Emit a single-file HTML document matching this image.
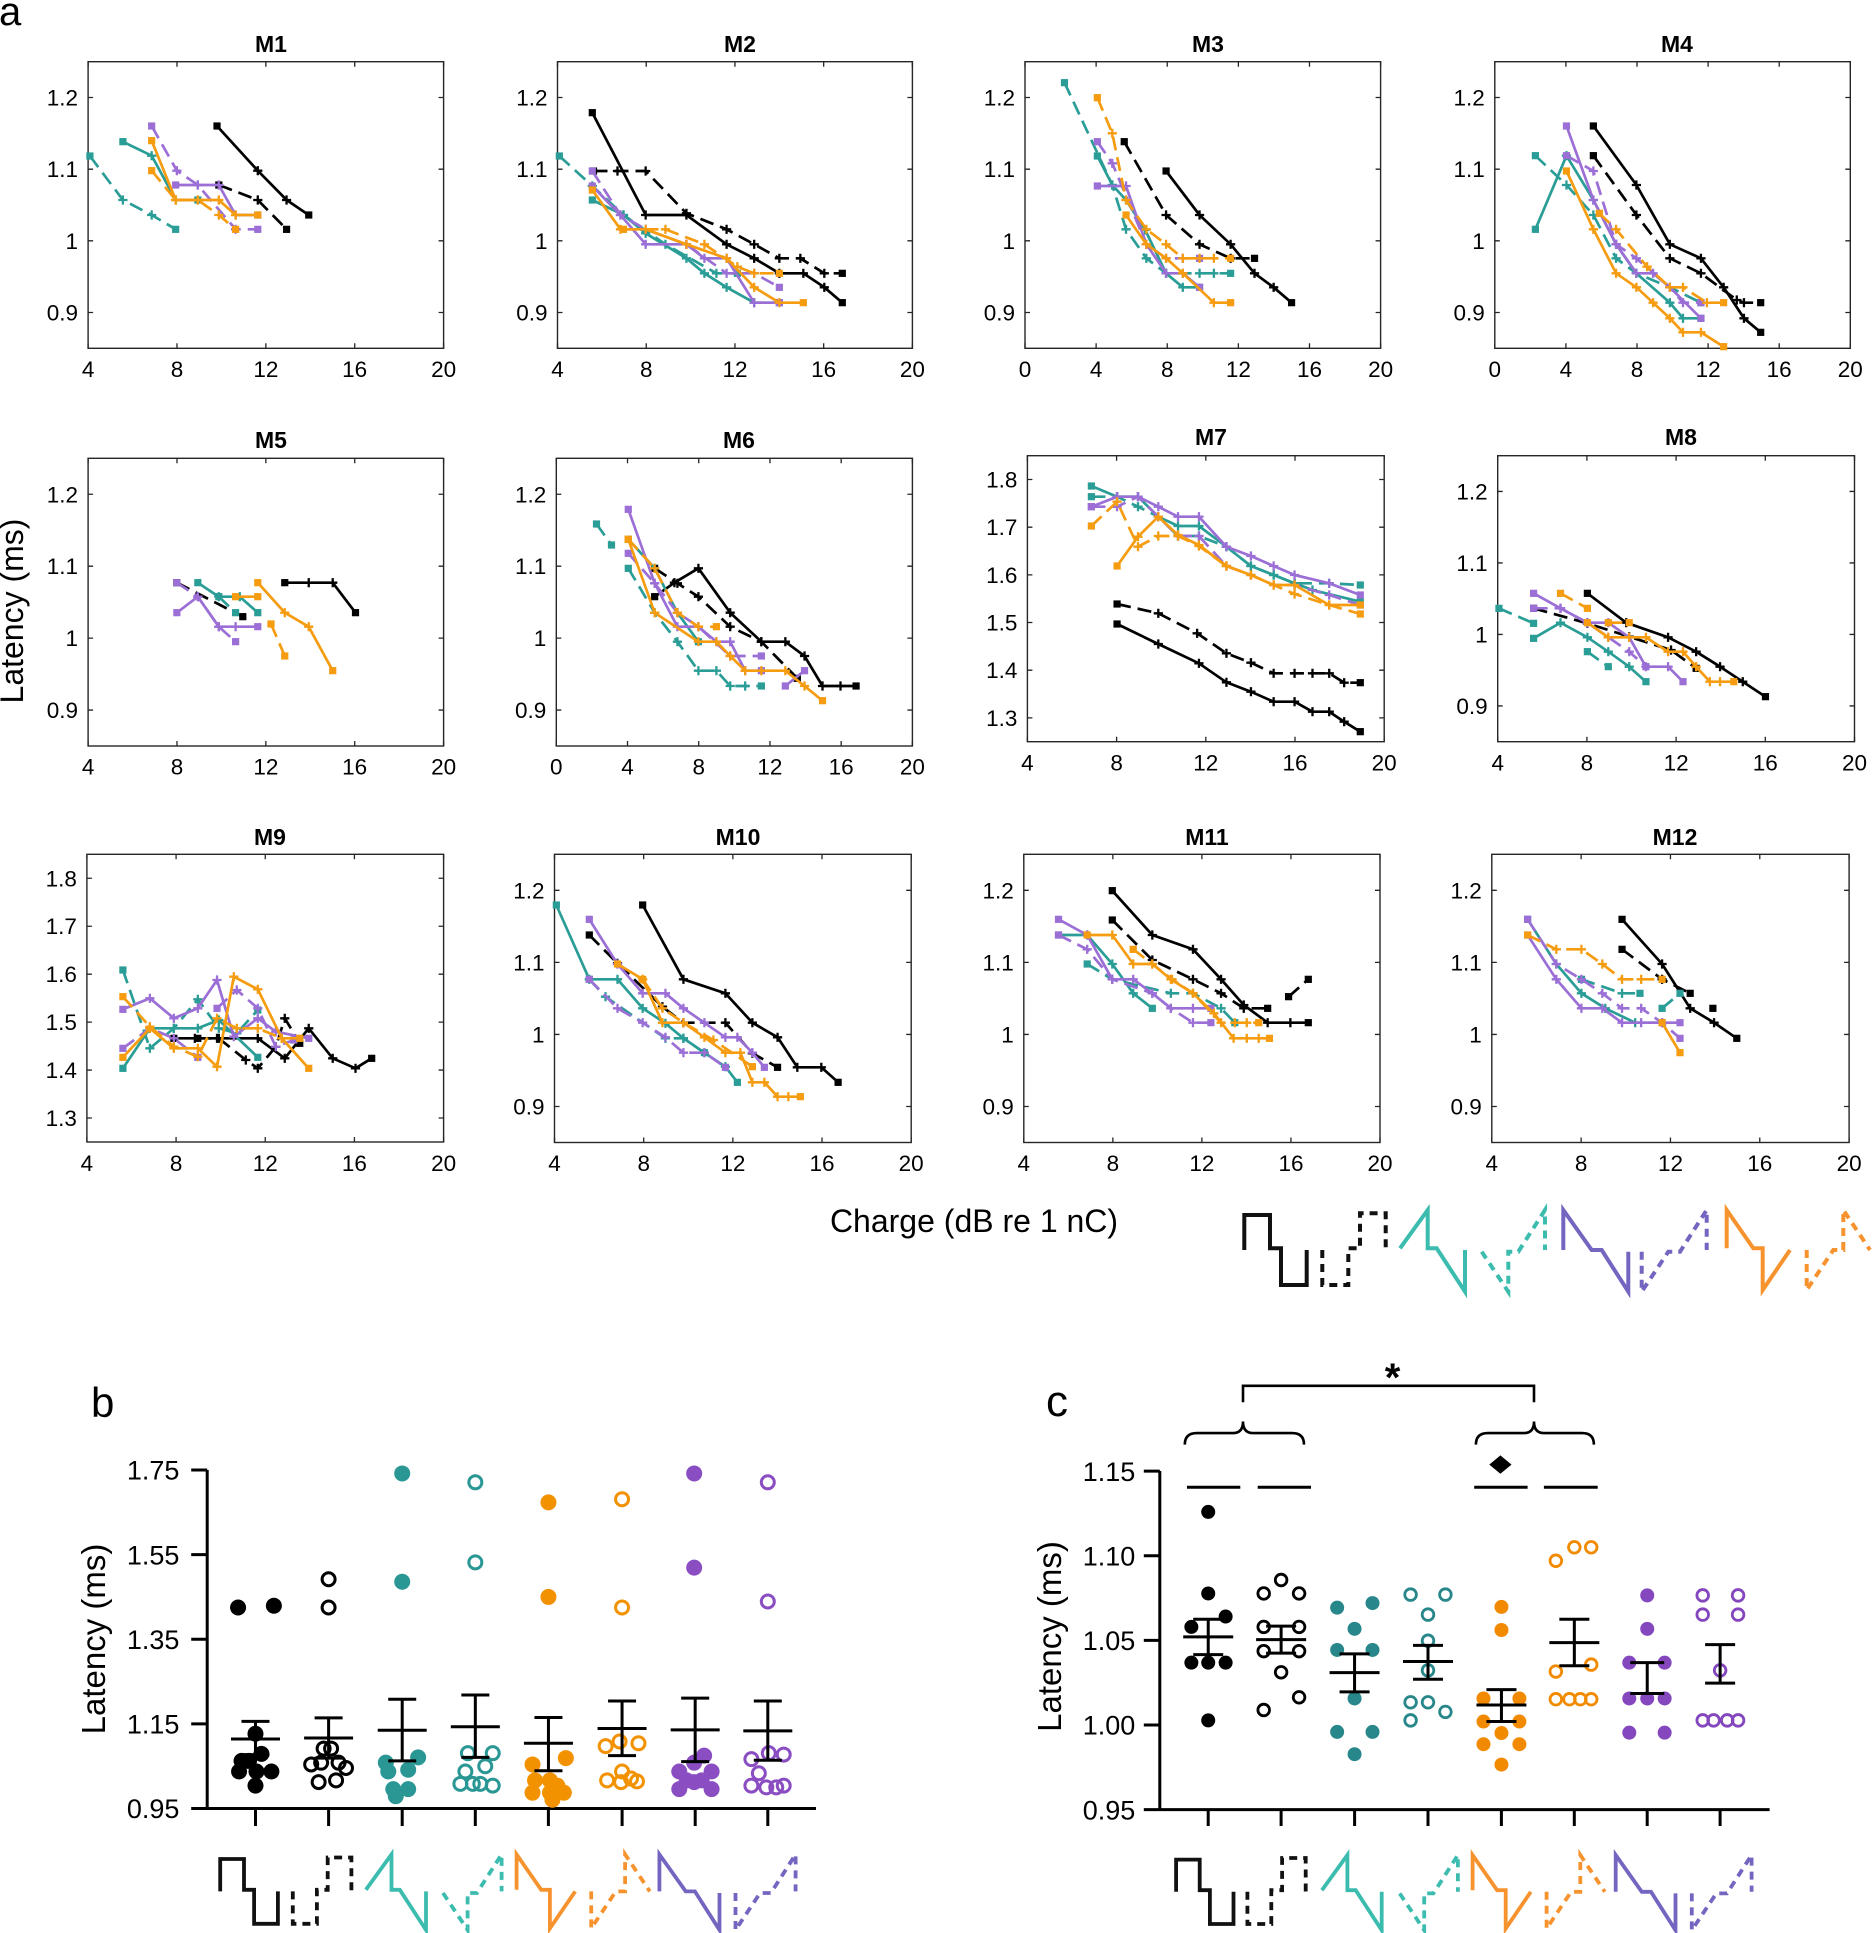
<!DOCTYPE html>
<html>
<head>
<meta charset="utf-8">
<style>
  html,body{margin:0;padding:0;background:#fff;}
  svg{display:block;}
  text{font-family:"Liberation Sans",Arial,sans-serif;fill:#000;}
</style>
</head>
<body>
<svg id="svg" xmlns="http://www.w3.org/2000/svg" width="1873" height="1933" viewBox="0 0 1873 1933">
<rect x="0" y="0" width="1873" height="1933" fill="#fff"/>
<g id="g"></g>

<!-- panel letters -->
<text x="-1" y="25" font-size="40">a</text>
<text x="91" y="1417" font-size="42">b</text>
<text x="1046" y="1416" font-size="44">c</text>

<!-- titles -->
<g font-size="23" font-weight="bold" text-anchor="middle">
<text x="271" y="52">M1</text>
<text x="740" y="52">M2</text>
<text x="1208" y="52">M3</text>
<text x="1677" y="52">M4</text>
<text x="271" y="448">M5</text>
<text x="739" y="448">M6</text>
<text x="1211" y="445">M7</text>
<text x="1681" y="445">M8</text>
<text x="270" y="845">M9</text>
<text x="738" y="845">M10</text>
<text x="1207" y="845">M11</text>
<text x="1675" y="845">M12</text>
</g>

<!-- y tick labels panel a -->
<g font-size="22.5" text-anchor="end">
<text x="78" y="105.5">1.2</text><text x="78" y="177.2">1.1</text><text x="78" y="248.8">1</text><text x="78" y="320.5">0.9</text>
<text x="547.5" y="105.5">1.2</text><text x="547.5" y="177.2">1.1</text><text x="547.5" y="248.8">1</text><text x="547.5" y="320.5">0.9</text>
<text x="1015" y="105.5">1.2</text><text x="1015" y="177.2">1.1</text><text x="1015" y="248.8">1</text><text x="1015" y="320.5">0.9</text>
<text x="1484.8" y="105.5">1.2</text><text x="1484.8" y="177.2">1.1</text><text x="1484.8" y="248.8">1</text><text x="1484.8" y="320.5">0.9</text>

<text x="78" y="502.3">1.2</text><text x="78" y="574.2">1.1</text><text x="78" y="646.1">1</text><text x="78" y="718">0.9</text>
<text x="546.3" y="502.3">1.2</text><text x="546.3" y="574.2">1.1</text><text x="546.3" y="646.1">1</text><text x="546.3" y="718">0.9</text>
<text x="1017.4" y="487.5">1.8</text><text x="1017.4" y="535.2">1.7</text><text x="1017.4" y="582.8">1.6</text><text x="1017.4" y="630.5">1.5</text><text x="1017.4" y="678.2">1.4</text><text x="1017.4" y="725.9">1.3</text>
<text x="1487.7" y="499.5">1.2</text><text x="1487.7" y="570.9">1.1</text><text x="1487.7" y="642.4">1</text><text x="1487.7" y="713.9">0.9</text>

<text x="76.9" y="886.3">1.8</text><text x="76.9" y="934.2">1.7</text><text x="76.9" y="982.2">1.6</text><text x="76.9" y="1030.1">1.5</text><text x="76.9" y="1078.1">1.4</text><text x="76.9" y="1126">1.3</text>
<text x="544.5" y="898.3">1.2</text><text x="544.5" y="970.4">1.1</text><text x="544.5" y="1042.4">1</text><text x="544.5" y="1114.5">0.9</text>
<text x="1013.8" y="898.3">1.2</text><text x="1013.8" y="970.4">1.1</text><text x="1013.8" y="1042.4">1</text><text x="1013.8" y="1114.5">0.9</text>
<text x="1481.8" y="898.3">1.2</text><text x="1481.8" y="970.4">1.1</text><text x="1481.8" y="1042.4">1</text><text x="1481.8" y="1114.5">0.9</text>
</g>

<!-- x tick labels panel a -->
<g font-size="22.5" text-anchor="middle">
<text x="88.1" y="376.8">4</text><text x="177" y="376.8">8</text><text x="265.9" y="376.8">12</text><text x="354.7" y="376.8">16</text><text x="443.6" y="376.8">20</text>
<text x="557.5" y="376.8">4</text><text x="646.2" y="376.8">8</text><text x="735" y="376.8">12</text><text x="823.7" y="376.8">16</text><text x="912.4" y="376.8">20</text>
<text x="1025" y="376.8">0</text><text x="1096.1" y="376.8">4</text><text x="1167.2" y="376.8">8</text><text x="1238.4" y="376.8">12</text><text x="1309.5" y="376.8">16</text><text x="1380.6" y="376.8">20</text>
<text x="1494.8" y="376.8">0</text><text x="1565.9" y="376.8">4</text><text x="1637" y="376.8">8</text><text x="1708.1" y="376.8">12</text><text x="1779.2" y="376.8">16</text><text x="1850.3" y="376.8">20</text>

<text x="88.1" y="774.5">4</text><text x="177" y="774.5">8</text><text x="265.9" y="774.5">12</text><text x="354.7" y="774.5">16</text><text x="443.6" y="774.5">20</text>
<text x="556.3" y="774.5">0</text><text x="627.5" y="774.5">4</text><text x="698.7" y="774.5">8</text><text x="769.9" y="774.5">12</text><text x="841.2" y="774.5">16</text><text x="912.4" y="774.5">20</text>
<text x="1027.4" y="770.5">4</text><text x="1116.6" y="770.5">8</text><text x="1205.8" y="770.5">12</text><text x="1295" y="770.5">16</text><text x="1384.2" y="770.5">20</text>
<text x="1497.7" y="770.5">4</text><text x="1586.9" y="770.5">8</text><text x="1676.1" y="770.5">12</text><text x="1765.3" y="770.5">16</text><text x="1854.5" y="770.5">20</text>

<text x="86.9" y="1171">4</text><text x="176.1" y="1171">8</text><text x="265.3" y="1171">12</text><text x="354.4" y="1171">16</text><text x="443.6" y="1171">20</text>
<text x="554.5" y="1171">4</text><text x="643.7" y="1171">8</text><text x="732.9" y="1171">12</text><text x="822" y="1171">16</text><text x="911.2" y="1171">20</text>
<text x="1023.8" y="1171">4</text><text x="1112.9" y="1171">8</text><text x="1201.9" y="1171">12</text><text x="1291" y="1171">16</text><text x="1380" y="1171">20</text>
<text x="1491.8" y="1171">4</text><text x="1581.1" y="1171">8</text><text x="1670.5" y="1171">12</text><text x="1759.8" y="1171">16</text><text x="1849.1" y="1171">20</text>
</g>

<!-- axis labels -->
<text transform="translate(23,611) rotate(-90)" font-size="32" text-anchor="middle">Latency (ms)</text>
<text x="974" y="1232" font-size="32" text-anchor="middle">Charge (dB re 1 nC)</text>
<text transform="translate(105,1639) rotate(-90)" font-size="33" text-anchor="middle">Latency (ms)</text>
<text transform="translate(1061,1636.5) rotate(-90)" font-size="33" text-anchor="middle">Latency (ms)</text>

<!-- panel b tick labels -->
<g font-size="27" text-anchor="end">
<text x="179.4" y="1479.7">1.75</text>
<text x="179.4" y="1564.3">1.55</text>
<text x="179.4" y="1649">1.35</text>
<text x="179.4" y="1733.6">1.15</text>
<text x="179.4" y="1818.2">0.95</text>
</g>
<!-- panel c tick labels -->
<g font-size="27" text-anchor="end">
<text x="1135.3" y="1480.8">1.15</text>
<text x="1135.3" y="1565.4">1.10</text>
<text x="1135.3" y="1650.1">1.05</text>
<text x="1135.3" y="1734.7">1.00</text>
<text x="1135.3" y="1819.3">0.95</text>
</g>

<!-- panel c significance -->
<g fill="none" stroke="#000" stroke-width="2.6">
<path d="M1243,1402.3 V1385.8 H1534 V1402.3"/>
<path d="M1184.8,1444.6 Q1184.8,1433.1 1197,1433.1 L1233,1433.1 Q1243,1433.1 1243,1421.5 Q1243,1433.1 1253,1433.1 L1292,1433.1 Q1304,1433.1 1304,1444.6"/>
<path d="M1475.9,1444.6 Q1475.9,1433.1 1488,1433.1 L1524,1433.1 Q1534,1433.1 1534,1421.5 Q1534,1433.1 1544,1433.1 L1582,1433.1 Q1593.9,1433.1 1593.9,1444.6"/>
</g>
<g stroke="#000" stroke-width="3">
<line x1="1187" y1="1487.3" x2="1240.3" y2="1487.3"/>
<line x1="1257.7" y1="1487.3" x2="1311" y2="1487.3"/>
<line x1="1474.2" y1="1487.3" x2="1527.6" y2="1487.3"/>
<line x1="1543.9" y1="1487.3" x2="1597.7" y2="1487.3"/>
</g>
<polygon points="1500.4,1455.4 1511.5,1464.6 1500.4,1473.8 1489.3,1464.6" fill="#000"/>
<text x="1392.6" y="1391" font-size="40" font-weight="bold" text-anchor="middle">*</text>
</svg>

<script>
(function(){
var NS='http://www.w3.org/2000/svg';
var root=document.getElementById('g');
function el(tag,a){var e=document.createElementNS(NS,tag);for(var k in a)e.setAttribute(k,a[k]);root.appendChild(e);return e;}
var FR={A:[0,0,0.5995,1/3],B:[936,0,0.5976,1/3],C:[0,420,0.5995,1/3],D:[936,420,0.5976,1/3],E:[0,820,0.5995,1/3],F:[936,820,0.5976,1/3],b:[60,1380,0.4974,0.3527],c:[1020,1330,0.544,0.3846]};
function tx(f,x){return f[0]+x*f[2];}
function ty(f,y){return f[1]+y*f[3];}

/* axes boxes panel a */
function box(x0,y0,x1,y1,xl,yl,yt){
  el('rect',{x:x0,y:y0,width:x1-x0,height:y1-y0,fill:'none',stroke:'#262626','stroke-width':1.4});
  var d='';
  for(var v=xl[0];v<=xl[1]+0.001;v+=4){
    var px=x0+(v-xl[0])/(xl[1]-xl[0])*(x1-x0);
    d+='M'+px+','+y1+'v-5M'+px+','+y0+'v5';
  }
  for(var i=0;i<yt.length;i++){
    var py=y0+(yl[1]-yt[i])/(yl[1]-yl[0])*(y1-y0);
    d+='M'+x0+','+py+'h5M'+x1+','+py+'h-5';
  }
  el('path',{d:d,stroke:'#262626','stroke-width':1.3,fill:'none'});
}
var Y1=[0.9,1,1.1,1.2], Y2=[1.3,1.4,1.5,1.6,1.7,1.8];
box(88.1,61.7,443.6,348.3,[4,20],[0.85,1.25],Y1);
box(557.5,61.7,912.4,348.3,[4,20],[0.85,1.25],Y1);
box(1025,61.7,1380.6,348.3,[0,20],[0.85,1.25],Y1);
box(1494.8,61.7,1850.3,348.3,[0,20],[0.85,1.25],Y1);
box(88.1,458.3,443.6,746,[4,20],[0.85,1.25],Y1);
box(556.3,458.3,912.4,746,[0,20],[0.85,1.25],Y1);
box(1027.4,455.7,1384.2,741.7,[4,20],[1.25,1.85],Y2);
box(1497.7,455.7,1854.5,741.7,[4,20],[0.85,1.25],Y1);
box(86.9,854.3,443.6,1142,[4,20],[1.25,1.85],Y2);
box(554.5,854.3,911.2,1142.5,[4,20],[0.85,1.25],Y1);
box(1023.8,854.3,1380,1142.5,[4,20],[0.85,1.25],Y1);
box(1491.8,854.3,1849.1,1142.5,[4,20],[0.85,1.25],Y1);

var K='#000',T='#2a9d96',P='#9b6fd6',O='#f59c10';
function ser(f,a,col,dash){
  var pts=[];
  for(var i=0;i<a.length;i+=2)pts.push([tx(f,a[i]),ty(f,a[i+1])]);
  if(pts.length>1){
    var at={points:pts.map(function(p){return p[0].toFixed(1)+','+p[1].toFixed(1);}).join(' '),fill:'none',stroke:col,'stroke-width':2.7,'stroke-linejoin':'round'};
    if(dash)at['stroke-dasharray']='14 7';
    el('polyline',at);
  }
  var d='';
  for(var j=0;j<pts.length;j++){
    var x=pts[j][0],y=pts[j][1];
    if(j==0||j==pts.length-1){el('rect',{x:x-3.6,y:y-3.6,width:7.2,height:7.2,fill:col});}
    else{d+='M'+(x-4.6)+','+y+'h9.2M'+x+','+(y-4.6)+'v9.2';}
  }
  if(d)el('path',{d:d,stroke:col,'stroke-width':2.3,fill:'none'});
}
function plot(f,L){for(var i=0;i<L.length;i++)ser(FR[f],L[i][0],L[i][1],L[i][2]);}

/* M1 */
plot('A',[
[[362,378,430,512,478,600,515,645],K,0],
[[365,555,430,600,478,688],K,1],
[[205,425,253,467,293,600,330,600],T,0],
[[150,468,205,600,253,645,293,688],T,1],
[[293,555,330,555,365,555,393,645,430,645],P,0],
[[253,378,295,512,330,555,393,688,430,688],P,1],
[[253,422,293,600,330,600,365,600,393,645,430,645],O,0],
[[253,512,293,600,330,600,365,645,393,688],O,1]
]);
/* M2 */
plot('A',[
[[988,338,1077,645,1145,645,1212,733,1258,775,1300,820,1340,820,1375,862,1405,908],K,0],
[[990,513,1030,513,1077,513,1145,640,1212,688,1258,733,1300,775,1335,775,1375,820,1405,820],K,1],
[[988,600,1040,645,1077,700,1145,775,1175,820,1212,862,1258,908,1300,908],T,0],
[[933,468,988,558,1040,645,1110,733,1195,820,1230,820],T,1],
[[988,558,1035,645,1077,733,1145,733,1175,775,1212,775,1258,908,1300,908],P,0],
[[988,513,1035,645,1077,688,1145,733,1212,820,1258,820,1300,862],P,1],
[[988,570,1035,688,1077,688,1145,733,1212,775,1258,862,1300,908,1340,908],O,0],
[[1040,688,1110,688,1175,733,1230,800,1258,820,1300,820],O,1]
]);
/* M3 */
plot('B',[
[[385,513,441,645,493,733,533,820,565,862,595,908],K,0],
[[315,425,385,645,441,733,493,775,533,775],K,1],
[[270,468,295,555,318,600,350,690,385,820,413,862,441,862],T,0],
[[215,248,295,555,318,688,352,775,385,820,441,820,465,820,493,820],T,1],
[[270,558,318,558,352,733,385,820,413,820,441,862],P,0],
[[270,425,295,490,352,733,385,775,413,775,441,775],P,1],
[[318,645,352,733,385,775,413,820,465,908,493,908],O,0],
[[270,293,295,400,318,600,352,688,385,733,413,775,441,775,465,775,493,775],O,1]
]);
/* M4 */
plot('B',[
[[1100,378,1172,555,1228,733,1280,775,1318,862,1352,955,1380,997],K,0],
[[1100,467,1172,645,1228,775,1280,820,1340,900,1352,908,1380,908],K,1],
[[1003,688,1055,467,1100,600,1138,733,1172,820,1228,908,1250,955,1280,955],T,0],
[[1003,467,1055,555,1100,645,1138,775,1172,820,1228,862,1280,908],T,1],
[[1055,378,1100,600,1138,733,1172,820,1200,820,1228,862,1280,955],P,0],
[[1055,467,1100,513,1138,733,1172,775,1228,862,1250,908,1280,908],P,1],
[[1055,513,1100,688,1138,820,1172,862,1200,908,1228,955,1250,997,1280,997,1318,1040],O,0],
[[1110,640,1138,688,1190,800,1228,862,1250,862,1290,908,1318,908],O,1]
]);
/* M5 */
plot('C',[
[[475,488,515,488,555,488,593,578],K,0],
[[295,488,405,590],K,1],
[[330,488,365,530,400,530,430,578],T,0],
[[365,530,393,578],T,1],
[[295,578,330,530,365,620,393,620,430,620],P,0],
[[295,488,330,530,365,620,393,665],P,1],
[[430,488,475,578,515,620,555,752],O,0],
[[393,530,430,530],O,0],
[[452,612,475,708],O,1]
]);
/* M6 */
plot('C',[
[[1092,530,1125,488,1165,445,1218,578,1270,665,1310,665,1342,708,1372,798,1402,798,1428,798],K,0],
[[1092,445,1130,490,1165,530,1218,620,1270,665,1330,775],K,1],
[[1048,358,1092,445,1130,578,1165,665],T,0],
[[995,312,1020,375],T,1],
[[1048,445,1092,578,1130,665,1165,752,1195,752,1218,798,1243,798,1270,798],T,1],
[[1048,268,1092,490,1130,620,1165,620,1195,665,1218,665,1243,752,1270,752],P,0],
[[1048,400,1092,490,1130,578,1165,620,1218,708,1270,708],P,1],
[[1310,798,1342,752],P,0],
[[1048,358,1092,578,1165,665,1195,665,1218,708,1243,752,1270,752,1310,752,1342,798,1372,842],O,0],
[[1048,358,1092,445,1130,578,1165,620,1195,620],O,1]
]);
/* M7 */
plot('D',[
[[303,612,372,672,440,730,486,787,527,815,565,845,600,845,630,875,658,875,683,905,710,935],K,0],
[[303,552,372,580,437,640,486,700,527,728,565,760,600,760,630,760,658,760,683,788,710,788],K,1],
[[260,198,303,230,338,230,372,290,405,318,440,318,486,380,527,438,565,465,600,490,630,510,710,545],T,0],
[[260,230,303,230,338,260,372,290,405,348,440,348,486,380,527,438,565,465,600,490,658,490,710,495],T,1],
[[260,260,303,230,338,230,372,260,405,290,440,290,486,380,527,408,565,438,600,465,658,490,710,525],P,0],
[[260,260,303,260,338,230,372,290,405,348,440,348,486,438,527,465,565,495,600,495,658,525,710,555],P,1],
[[303,438,338,350,372,290,405,345,440,375,486,438,527,465,565,495,600,495,658,555,710,555],O,0],
[[260,318,303,245,338,380,372,348,405,348,440,378,486,438,527,465,565,495,600,522,658,555,710,582],O,1]
]);
/* M8 */
plot('D',[
[[1090,520,1155,608,1225,652,1272,695,1312,740,1350,785,1388,830],K,0],
[[1000,565,1090,610,1160,650,1230,690,1272,745],K,1],
[[1000,655,1045,608,1090,652,1125,695,1160,740,1188,785],T,0],
[[942,565,1000,610],T,1],
[[1090,695,1125,740],T,1],
[[1000,520,1045,565,1090,608,1125,608,1160,652,1188,740,1225,740,1250,785],P,0],
[[1000,565,1045,565,1090,608,1125,652,1160,695,1188,740],P,1],
[[1090,608,1125,652,1160,652,1188,652,1225,695,1250,695,1272,740,1295,785,1312,785,1335,785],O,0],
[[1045,520,1090,565],O,1],
[[1125,608,1160,608],O,1]
]);
/* M9 */
plot('E',[
[[290,655,325,655,362,655,430,655,475,715,515,625,555,715,593,745,620,715],K,0],
[[330,655,365,655,410,720,430,745,460,680,475,595,500,670],K,1],
[[205,745,250,625,290,625,330,625,365,600,430,712],T,0],
[[205,450,250,685,290,625,330,538,365,625,395,640,430,570],T,1],
[[205,568,250,535,290,595,330,565,362,480,390,650,430,595,460,635,515,655],P,0],
[[205,685,250,625,290,655,330,712],P,1],
[[362,565,395,510,430,565,460,680,490,660],P,1],
[[205,712,250,625,290,685,330,685,362,740,390,470,430,508,470,655,515,745],O,0],
[[205,530,250,620,290,680,330,710,362,595,395,625,430,625,470,655,500,655],O,1]
]);
/* M10 */
plot('E',[
[[1072,255,1140,478,1210,520,1255,608,1297,652,1330,742,1370,742,1398,787],K,0],
[[983,345,1030,430,1105,560,1140,608,1210,608,1255,700,1297,742],K,1],
[[928,255,983,478,1030,478,1072,565,1110,610,1140,655,1175,698,1210,740,1230,787],T,0],
[[983,478,1010,530,1110,655,1140,655,1175,698],T,1],
[[983,298,1030,432,1072,520,1110,520,1140,565,1175,608,1210,652,1230,652,1255,698,1275,742],P,0],
[[983,478,1030,565,1072,608,1110,652,1140,698,1175,698,1210,742],P,1],
[[1030,432,1072,478,1105,608,1140,608,1175,652,1210,698,1235,698,1255,787,1275,787,1297,830,1315,830,1335,830],O,0],
[[1072,478,1105,565,1140,608,1190,660,1255,740],O,1]
]);
/* M11 */
plot('F',[
[[295,212,362,345,430,388,477,478,515,555,555,608,593,608,623,608],K,0],
[[295,300,362,420,430,478,477,520,515,565,555,565],K,1],
[[590,530,623,478],K,1],
[[205,345,253,345,295,432,330,520,362,565],T,0],
[[253,432,295,478,393,520,430,520,477,565,500,608],T,1],
[[205,298,253,345,295,478,330,478,362,520,393,565,430,565,460,565],P,0],
[[205,345,253,388,295,478,362,520,393,565,430,608,460,608],P,1],
[[253,345,295,345,330,432,362,432,393,478,430,520,465,580,498,655,520,655,540,655,558,655],O,0],
[[330,388,362,432,395,478,430,520,477,608,500,608,520,608,540,608],O,1]
]);
/* M12 */
plot('F',[
[[1148,298,1215,432,1262,565,1302,608,1340,655],K,0],
[[1148,388,1215,478,1262,520],K,1],
[[1300,565],K,1],
[[990,298,1038,432,1080,520,1120,565,1170,608,1215,608],T,0],
[[1080,478,1148,520,1178,520],T,1],
[[1215,565,1245,520],T,1],
[[990,345,1038,478,1080,565,1115,565,1148,608,1180,608,1215,608,1245,608],P,0],
[[990,298,1038,432,1080,478,1115,520,1148,565,1180,565,1215,608,1245,655],P,1],
[[1215,608,1245,698],O,0],
[[990,345,1038,388,1080,388,1115,432,1148,478,1180,478,1215,478],O,1]
]);

/* legend glyphs */
var TPL={
 KS:[[0,40],[0,5],[25.7,5],[25.7,38.3],[36.7,38.3],[36.7,75],[62.4,75],[62.4,40]],
 KD:[[0,40],[0,75],[26,75],[26,38.3],[37.7,38.3],[37.7,3.3],[63.4,3.3],[63.4,40]],
 TS:[[0,38.3],[27.7,0],[27.7,38.3],[36.7,38.3],[65,81.7],[65,40]],
 TD:[[0,41.7],[26.6,81.7],[26.6,41.7],[36.6,41.7],[63.3,0],[63.3,40]],
 PS:[[0,40],[0,0],[28.4,40],[38.4,40],[65,81.7],[65,41.7]],
 PD:[[0,41.7],[0,81.7],[26.6,41.7],[38.3,41.7],[65,0],[65,40]],
 OS:[[0,38.3],[0,0],[26.6,38.3],[36,38.3],[36,80],[63.3,40]],
 OD:[[0,40],[0,80],[26.6,40],[36.6,40],[36.6,0],[63.3,40]]
};
var GC={K:'#111',T:'#3bbcae',P:'#7466c0',O:'#f7932f'};
function glyph(n,ox,oy,s,sw){
  var pts=TPL[n].map(function(p){return (ox+p[0]*s).toFixed(1)+','+(oy+p[1]*s).toFixed(1);}).join(' ');
  var a={points:pts,fill:'none',stroke:GC[n[0]],'stroke-width':sw,'stroke-linejoin':'miter'};
  if(n[1]=='D')a['stroke-dasharray']='8 6';
  el('polyline',a);
}
var la=[['KS',1244.3],['KD',1322.3],['TS',1400],['TD',1481.7],['PS',1563.3],['PD',1641.7],['OS',1726.7],['OD',1806.7]];
la.forEach(function(g){glyph(g[0],g[1],1210,1,4);});
var lb=[['KS',220.2],['KD',292.8],['TS',365.9],['TD',443],['OS',516.6],['OD',591.2],['PS',659.4],['PD',735.5]];
lb.forEach(function(g){glyph(g[0],g[1],1854.4,0.925,3.8);});
var lc=[['KS',1176.1],['KD',1247.4],['TS',1321.9],['TD',1399.7],['OS',1472.6],['OD',1546.6],['PS',1615.7],['PD',1691.8]];
lc.forEach(function(g){glyph(g[0],g[1],1855,0.92,3.8);});

/* panel b & c axes */
function axes(xa,ytop,ybot,xend,yts,xts){
  var d='M'+xa+','+ytop+'V'+ybot+'H'+xend;
  yts.forEach(function(y){d+='M'+(xa-16)+','+y+'H'+xa;});
  xts.forEach(function(x){d+='M'+x+','+ybot+'V1826';});
  el('path',{d:d,stroke:'#000','stroke-width':3,fill:'none'});
}
axes(207.2,1470,1808.5,816,[1470,1554.6,1639.3,1723.9,1808.5],[255.5,328.6,402.2,475.3,548.4,622.1,695.2,767.8]);
axes(1159.8,1471,1809.6,1769.6,[1471.1,1555.7,1640.4,1725,1809.6],[1208.2,1281.1,1354.6,1428,1501.4,1574.3,1647.2,1720.1]);

function dots(f,a,col,open,r,sw){
  for(var i=0;i<a.length;i+=2){
    var x=tx(f,a[i]),y=ty(f,a[i+1]);
    if(open)el('circle',{cx:x,cy:y,r:r-sw/2,fill:'none',stroke:col,'stroke-width':sw});
    else el('circle',{cx:x,cy:y,r:r,fill:col});
  }
}
function ebar(f,x,top,mean,bot,hm,hc){
  var X=tx(f,x),t=ty(f,top),b=ty(f,bot);
  var d='M'+X+','+t+'V'+b+'M'+(X-hc)+','+t+'h'+(2*hc)+'M'+(X-hc)+','+b+'h'+(2*hc);
  if(mean!==null){var m=ty(f,mean);d+='M'+(X-hm)+','+m+'h'+(2*hm);}
  el('path',{d:d,stroke:'#000','stroke-width':3,fill:'none'});
}
var fb=FR.b, bT='#2a9795', bO='#f39200', bP='#8a4dc2';
dots(fb,[358,645,430,640,393,1003,405,1060,365,1080,380,1080,360,1110,395,1110,425,1110,393,1150],'#000',0,8,3);
dots(fb,[540,565,540,645,530,1045,545,1045,505,1090,525,1085,560,1085,575,1100,520,1140,555,1135],'#000',1,8,3);
dots(fb,[688,265,688,572,655,1085,720,1070,660,1110,700,1105,670,1160,700,1160,675,1180],bT,0,8,3);
dots(fb,[835,290,835,517,820,1058,870,1058,855,1095,805,1145,830,1145,845,1145,870,1150,815,1110],bT,1,8,3);
dots(fb,[982,347,982,615,950,1090,1017,1072,955,1135,985,1135,1000,1150,950,1170,985,1170,1013,1170,990,1190],bO,0,8,3);
dots(fb,[1130,338,1130,645,1097,1038,1125,1025,1163,1030,1100,1135,1130,1110,1128,1140,1160,1138,1148,1130],bO,1,8,3);
dots(fb,[1275,265,1275,532,1295,1065,1275,1085,1245,1110,1310,1110,1245,1160,1275,1140,1310,1160,1260,1135,1290,1135],bP,0,8,3);
dots(fb,[1423,290,1423,628,1390,1075,1425,1058,1455,1062,1405,1115,1390,1150,1420,1155,1440,1155,1455,1150],bP,1,8,3);
ebar(fb,393,968,1018,1062,24.5,14);
ebar(fb,540,958,1015,1072,24.5,14);
ebar(fb,688,905,993,1080,24.5,14);
ebar(fb,835,893,983,1070,24.5,14);
ebar(fb,982,957,1030,1108,24.5,14);
ebar(fb,1130,910,988,1065,24.5,14);
ebar(fb,1277,902,992,1082,24.5,14);
ebar(fb,1423,910,995,1078,24.5,14);

var fc=FR.c, cT='#28878a', cO='#f28a00', cP='#8447bd';
dots(fc,[346,473,346,685,378,745,315,772,315,865,346,865,378,865,346,1015],'#000',0,7,2.8);
dots(fc,[480,650,448,685,513,685,448,772,513,772,448,835,513,835,480,890,448,988,513,955],'#000',1,7.2,2.8);
dots(fc,[648,710,583,722,615,777,583,832,648,832,615,958,583,1045,648,1045,615,1103],cT,0,7,2.8);
dots(fc,[718,688,782,688,750,740,750,808,750,885,718,968,750,968,782,993,718,1015],cT,1,7.2,2.8);
dots(fc,[885,720,885,780,852,958,918,958,852,1018,918,1018,885,1048,852,1077,918,1077,885,1130],cO,0,7,2.8);
dots(fc,[985,600,1019,565,1050,565,985,888,1050,870,985,960,1010,960,1030,960,1050,960],cO,1,7.2,2.8);
dots(fc,[1153,690,1153,777,1120,865,1185,865,1120,958,1153,958,1185,958,1120,1047,1185,1047],cP,0,7,2.8);
dots(fc,[1255,690,1320,690,1255,740,1320,740,1287,885,1255,1015,1275,1015,1300,1015,1320,1015],cP,1,7.2,2.8);
ebar(fc,346,752,798,844,25,15);
ebar(fc,480,770,805,840,25,15);
ebar(fc,615,842,891,941,25,15);
ebar(fc,750,820,862,908,25,15);
ebar(fc,885,935,975,1018,25,15);
ebar(fc,1019,752,813,873,25,15);
ebar(fc,1153,865,null,945,25,17);
ebar(fc,1287,818,null,918,25,15);
})();
</script>
</body>
</html>
